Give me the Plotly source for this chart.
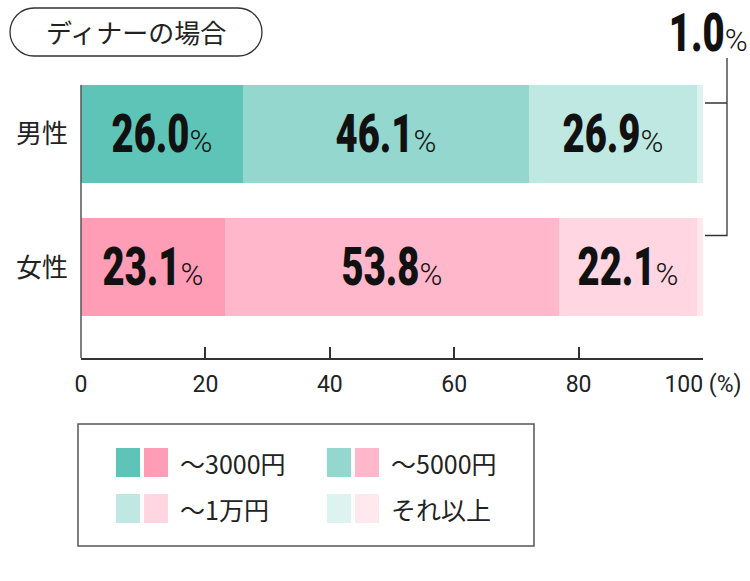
import plotly.graph_objects as go

# ---------------- data ----------------
categories = ["男性", "女性"]
cat_pos = [1, 0]
series_names = ["〜3000円", "〜5000円", "〜1万円", "それ以上"]
male_values = [26.0, 46.1, 26.9, 1.0]
female_values = [23.1, 53.8, 22.1, 1.0]
male_colors = ["#5EC4B7", "#93D7CE", "#BFE8E2", "#DDF3EF"]
female_colors = ["#FF9CB6", "#FFB8CB", "#FFD6E1", "#FFE8EE"]
x_ticks = [0, 20, 40, 60, 80, 100]
x_ticklabels = ["0", "20", "40", "60", "80", "100 (%)"]
title_text = "ディナーの場合"
small_note = "1.0"

# ---------------- layout constants ----------------
W, H = 750, 581
L, R, T, B = 81, 47, 50, 223
PW, PH = W - L - R, H - T - B
Y_RANGE = [-0.678, 1.629]
X_RANGE = [0, 100]
BAR_W = 0.734

NUM_FONT = "Roboto, sans-serif"
JP_FONT = "Noto Sans CJK JP, sans-serif"


def px(x):
    return (x - L) / PW


def py(y):
    return (H - B - y) / PH


def dx(v):
    return L + (v - X_RANGE[0]) / (X_RANGE[1] - X_RANGE[0]) * PW


def dy(v):
    return (H - B) - (v - Y_RANGE[0]) / (Y_RANGE[1] - Y_RANGE[0]) * PH


def big(v):
    return (f"<span style='font-weight:900'>{v}</span>"
            f"<span style='font-size:31px;font-weight:300'>%</span>")


fig = go.Figure()
for i, name in enumerate(series_names):
    vals = [male_values[i], female_values[i]]
    texts = [big(f"{v:.1f}") for v in vals] if i < 3 else ["", ""]
    fig.add_trace(go.Bar(
        y=cat_pos, x=vals, orientation="h", name=name,
        marker=dict(color=[male_colors[i], female_colors[i]], line=dict(width=0)),
        width=BAR_W,
        text=texts, textposition="inside", insidetextanchor="middle",
        textangle=0, constraintext="none",
        textfont=dict(family=NUM_FONT, size=53, color="#111111"),
        hoverinfo="skip", showlegend=False,
    ))

shapes = []
y_top_bar = dy(cat_pos[0] + BAR_W / 2)
shapes.append(dict(type="line", xref="paper", yref="paper",
                   x0=0, x1=0, y0=0, y1=py(y_top_bar),
                   line=dict(color="#555555", width=1.5)))

x0, x1, y0, y1 = 10, 262, 8, 56
r = (y1 - y0) / 2
k = 0.5523 * r


def P(x, y):
    return f"{px(x):.5f},{py(y):.5f}"


path = (f"M {P(x0 + r, y0)} L {P(x1 - r, y0)} "
        f"C {P(x1 - r + k, y0)} {P(x1, y0 + r - k)} {P(x1, y0 + r)} "
        f"C {P(x1, y0 + r + k)} {P(x1 - r + k, y1)} {P(x1 - r, y1)} "
        f"L {P(x0 + r, y1)} "
        f"C {P(x0 + r - k, y1)} {P(x0, y0 + r + k)} {P(x0, y0 + r)} "
        f"C {P(x0, y0 + r - k)} {P(x0 + r - k, y0)} {P(x0 + r, y0)} Z")
shapes.append(dict(type="path", xref="paper", yref="paper", path=path,
                   line=dict(color="#333333", width=1.3)))

bx = dx(100) + 2
lx = bx + 22
m_y = dy(cat_pos[0] + BAR_W / 2) + 18
f_y = dy(cat_pos[1] + BAR_W / 2) + 17
top_y = 58
lead = (f"M {P(bx, m_y)} L {P(lx, m_y)} "
        f"M {P(lx, top_y)} L {P(lx, f_y)} L {P(bx, f_y)}")
shapes.append(dict(type="path", xref="paper", yref="paper", path=lead,
                   line=dict(color="#333333", width=1.3)))

shapes.append(dict(type="rect", xref="paper", yref="paper",
                   x0=px(78), x1=px(534), y0=py(424), y1=py(546),
                   line=dict(color="#555555", width=1.5), fillcolor="rgba(0,0,0,0)"))

annotations = []
leg_cols = [116, 327]
leg_rows = [448, 494]
for i, name in enumerate(series_names):
    cx = leg_cols[i % 2]
    ry = leg_rows[i // 2]
    shapes.append(dict(type="rect", xref="paper", yref="paper",
                       x0=px(cx), x1=px(cx + 24), y0=py(ry), y1=py(ry + 29),
                       line=dict(width=0), fillcolor=male_colors[i]))
    shapes.append(dict(type="rect", xref="paper", yref="paper",
                       x0=px(cx + 28), x1=px(cx + 52), y0=py(ry), y1=py(ry + 29),
                       line=dict(width=0), fillcolor=female_colors[i]))
    annotations.append(dict(xref="paper", yref="paper", x=px(cx + 62), y=py(ry + 14.5),
                            text=name, showarrow=False, xanchor="left", yanchor="middle",
                            font=dict(family=JP_FONT, size=25, color="#222222")))

annotations.append(dict(xref="paper", yref="paper", x=px(136), y=py(32),
                        text=title_text, showarrow=False, xanchor="center", yanchor="middle",
                        font=dict(family=JP_FONT, size=26, color="#222222")))

annotations.append(dict(xref="paper", yref="paper", x=px(708), y=py(33),
                        text=big(small_note),
                        showarrow=False, xanchor="center", yanchor="middle",
                        font=dict(family=NUM_FONT, size=53, color="#111111")))

fig.update_layout(
    width=W, height=H,
    margin=dict(l=L, r=R, t=T, b=B, pad=0, autoexpand=False),
    barmode="stack", bargap=0,
    plot_bgcolor="white", paper_bgcolor="white",
    shapes=shapes, annotations=annotations,
    xaxis=dict(range=X_RANGE, tickvals=x_ticks, ticktext=x_ticklabels,
               automargin=False,
               showgrid=False, zeroline=False, showline=True,
               linecolor="#333333", linewidth=1.5,
               ticks="inside", ticklen=11, tickwidth=1.5, tickcolor="#333333",
               ticklabelstandoff=5, ticklabeloverflow="allow",
               tickfont=dict(family=NUM_FONT, size=23, color="#222222"),
               fixedrange=True),
    yaxis=dict(range=Y_RANGE, tickvals=cat_pos, ticktext=categories,
               automargin=False,
               showgrid=False, zeroline=False, showline=False, ticks="",
               ticklabelstandoff=12,
               tickfont=dict(family=JP_FONT, size=26, color="#222222"),
               fixedrange=True),
)

# condense the bold numerals (the reference uses a narrow display face)
post = """
var gd = document.getElementById('{plot_id}');
function squeeze(sel, f){
  gd.querySelectorAll(sel).forEach(function(ts){
    var st = ts.getAttribute('style') || '';
    if (st.indexOf('900') < 0) return;
    var w = ts.getComputedTextLength();
    ts.setAttribute('textLength', (w * f).toFixed(1));
    ts.setAttribute('lengthAdjust', 'spacingAndGlyphs');
  });
}
squeeze('text.bartext tspan', 0.72);
squeeze('text.annotation-text tspan', 0.72);
"""

fig.write_html("out.html", post_script=post)
